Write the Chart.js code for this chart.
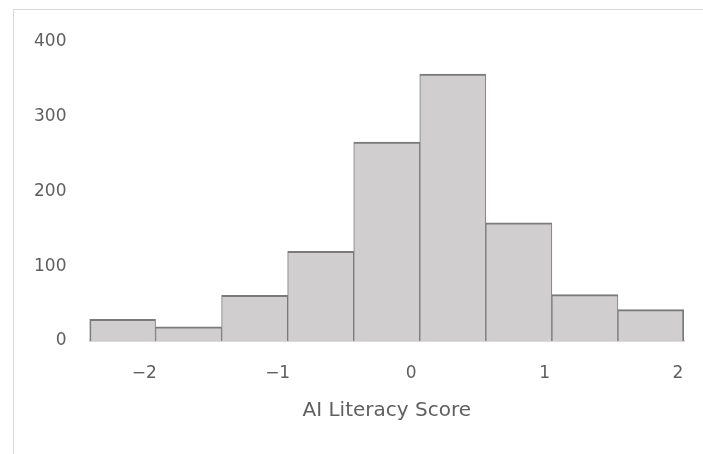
<!DOCTYPE html>
<html>
<head>
<meta charset="utf-8">
<script src="https://cdn.jsdelivr.net/npm/chart.js@4.4.1/dist/chart.umd.min.js"></script>
<style>
  html, body { margin: 0; padding: 0; background: #fff; overflow: hidden; }
  #wrap { position: relative; width: 703px; height: 454px; }
  #frame { position: absolute; left: 13px; top: 9px; width: 740px; height: 500px; border: 1px solid #d9d9d9; box-sizing: border-box; }
  canvas { position: absolute; left: 0; top: 0; }
</style>
</head>
<body>
<div id="wrap">
  <div id="frame"></div>
  <canvas id="hist" width="703" height="454"></canvas>
</div>
<script>
// histogram bins (edges) and counts
const binEdges = [-2.41, -1.915, -1.42, -0.925, -0.43, 0.065, 0.56, 1.055, 1.55, 2.045];
const counts = [29, 19, 61, 120, 266, 357, 158, 62, 42];
const xTicks = [-2, -1, 0, 1, 2];
const yTicks = [0, 100, 200, 300, 400];
const xTitle = 'AI Literacy Score';

const textColor = '#5f5f5f';
const fontFamily = '"DejaVu Sans", sans-serif';

const points = counts.map((c, i) => ({ x: (binEdges[i] + binEdges[i + 1]) / 2, y: c }));
const last = counts.length - 1;

const ctx = document.getElementById('hist').getContext('2d');
const chart = new Chart(ctx, {
  type: 'bar',
  data: {
    datasets: [{
      data: points,
      backgroundColor: '#d0cece',
      borderColor: '#7a7a7a',
      borderWidth: (c) => ({
        top: 2,
        bottom: 0,
        left: c.dataIndex === 0 ? 2 : 1,
        right: c.dataIndex === last ? 2 : 1
      }),
      borderSkipped: false,
      barPercentage: 1,
      categoryPercentage: 1
    }]
  },
  options: {
    responsive: false,
    animation: false,
    layout: { padding: { left: 14, right: 19, top: 42, bottom: 0 } },
    plugins: {
      legend: { display: false },
      tooltip: { enabled: false }
    },
    scales: {
      x: {
        type: 'linear',
        offset: false,
        min: binEdges[0],
        max: binEdges[binEdges.length - 1],
        afterBuildTicks: (s) => { s.ticks = xTicks.map(v => ({ value: v })); },
        afterFit: (s) => { s.height = 113; s.paddingLeft = 0; s.paddingRight = 0; },
        grid: { display: false, drawTicks: false, offset: false },
        border: { display: true, color: '#d9d9d9', width: 2 },
        ticks: {
          padding: 22,
          color: textColor,
          font: { family: fontFamily, size: 17 },
          callback: (v) => (v < 0 ? '\u2212' + Math.abs(v) : String(v))
        },
        title: {
          display: true,
          text: xTitle,
          color: textColor,
          font: { family: fontFamily, size: 20 },
          padding: { top: 0, bottom: 31 }
        }
      },
      y: {
        min: 0,
        max: 400,
        afterBuildTicks: (s) => { s.ticks = yTicks.map(v => ({ value: v })); },
        afterFit: (s) => { s.width = 75.5; },
        grid: { display: false, drawTicks: false },
        border: { display: false },
        ticks: {
          padding: 23,
          color: textColor,
          font: { family: fontFamily, size: 17 }
        }
      }
    }
  }
});
</script>
</body>
</html>
